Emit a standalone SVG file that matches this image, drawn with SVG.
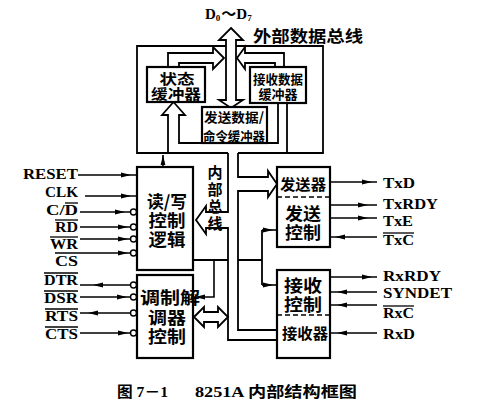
<svg xmlns="http://www.w3.org/2000/svg" width="480" height="408" viewBox="0 0 480 408">
<defs>
<marker id="ar" viewBox="0 0 10 6" refX="10" refY="3" markerWidth="10" markerHeight="6" markerUnits="userSpaceOnUse" orient="auto"><path d="M0,0.6 L10,3 L0,5.4 Z" fill="#000"/></marker>
</defs>
<style>
.box{fill:#fff;stroke:#000;stroke-width:2.2}
.bus{fill:none;stroke:#000;stroke-width:1.8}
.hol{fill:#fff;stroke:#000;stroke-width:1.8}
.sig{fill:none;stroke:#000;stroke-width:1.6;marker-mid:url(#ar)}
.sige{fill:none;stroke:#000;stroke-width:1.6;marker-end:url(#ar)}
.bub{fill:#fff;stroke:#000;stroke-width:1.4}
.ob{stroke:#000;stroke-width:1.3}
.dash{stroke:#000;stroke-width:1.4;stroke-dasharray:5 3}
.lat{font-family:"Liberation Serif","Noto Sans CJK SC",serif;font-weight:bold;font-size:15px}
.cn{font-family:"Noto Sans CJK SC","Noto Sans",sans-serif;font-weight:bold;text-anchor:middle;dominant-baseline:central}
</style>
<rect width="480" height="408" fill="#fff"/>

<g id="connectors">
  <path class="bus" d="M228,153 H137 V46 H226 M236,46 H323 V153 H238"/>
  <path class="bus" d="M168,153 V115 H162 L173.5,102 L185,115 H179 V143 H202"/>
  <path class="bus" d="M267,143 H278 V103 M287,103 V153"/>
  <path class="bus" d="M168,67 V53 H213 V47 L224,58 L213,69 V63 H179 V67"/>
  <path class="bus" d="M284,67 V53 H245 V47 L237,58 L245,69 V63 H275 V67"/>
  <polygon class="hol" points="231,28 243,40 236,40 236,100 243,100 231,108 219,100 226,100 226,40 219,40"/>
  <path class="bus" d="M228,153 V212 H206 V206 L196,220 L206,234 V228 H228 V340 H277"/>
  <path class="bus" d="M238,153 V177 H268 V171 L277,184 L268,197 V191 H238 V330 H277"/>
  <polygon class="hol" points="194,317 204,307 204,312 218,312 218,307 228,317 218,327 218,322 204,322 204,327"/>
  <path class="sige" d="M163,167 V155"/>
  <path class="bus" d="M193,260 H228"/>
  <path class="sige" d="M214,260 V297 H195"/>
  <path class="bus" d="M238,260 H262 M262,230 V285"/>
  <path class="sig" d="M262,230 L273,230 L277,230"/>
  <path class="sig" d="M262,285 L273,285 L277,285"/>
  <path class="sig" d="M78,175 L131,175 L137,175"/>
  <path class="sig" d="M85,196 L131,196 L137,196"/>
  <path class="sig" d="M80,212 L125,212 L130,212"/>
  <path class="sig" d="M80,227 L128,227 L130,227"/>
  <path class="sig" d="M80,239 L128,239 L130,239"/>
  <path class="sig" d="M55,253 L128,253 L130,253"/>
  <path class="sig" d="M130,285 L93,285 L80,285"/>
  <path class="sig" d="M80,297 L127,297 L130,297"/>
  <path class="sig" d="M130,313 L88,313 L80,313"/>
  <path class="sig" d="M80,333 L128,333 L130,333"/>
  <circle class="bub" cx="133.5" cy="212" r="3"/>
  <circle class="bub" cx="133.5" cy="227" r="3"/>
  <circle class="bub" cx="133.5" cy="239" r="3"/>
  <circle class="bub" cx="133.5" cy="253" r="3"/>
  <circle class="bub" cx="133.5" cy="285" r="3"/>
  <circle class="bub" cx="133.5" cy="297" r="3"/>
  <circle class="bub" cx="133.5" cy="313" r="3"/>
  <circle class="bub" cx="133.5" cy="333" r="3"/>
  <path class="sig" d="M330,182 L372,182 L377,182"/>
  <path class="sig" d="M330,205 L368,205 L377,205"/>
  <path class="sig" d="M330,218 L368,218 L377,218"/>
  <path class="sig" d="M377,237 L335,237 L330,237"/>
  <path class="sig" d="M330,277 L372,277 L377,277"/>
  <path class="sig" d="M377,292 L337,292 L330,292"/>
  <path class="sig" d="M377,305 L337,305 L330,305"/>
  <path class="sig" d="M377,333 L337,333 L330,333"/>
</g>

<g id="status-buffer">
  <rect class="box" x="147" y="67" width="58" height="35"/>
  <text class="cn" x="177" y="78" font-size="14" textLength="35" lengthAdjust="spacingAndGlyphs">状态</text>
  <text class="cn" x="176" y="93" font-size="14" textLength="50" lengthAdjust="spacingAndGlyphs">缓冲器</text>
</g>
<g id="receive-buffer">
  <rect class="box" x="250" y="67" width="56" height="36"/>
  <text class="cn" x="278" y="78" font-size="13" textLength="50" lengthAdjust="spacingAndGlyphs">接收数据</text>
  <text class="cn" x="278" y="93" font-size="13" textLength="39" lengthAdjust="spacingAndGlyphs">缓冲器</text>
</g>
<g id="tx-buffer">
  <rect class="box" x="202" y="107" width="65" height="36"/>
  <text class="cn" x="234" y="116" font-size="13" textLength="60" lengthAdjust="spacingAndGlyphs">发送数据/</text>
  <text class="cn" x="234" y="135" font-size="13" textLength="62" lengthAdjust="spacingAndGlyphs">命令缓冲器</text>
</g>
<g id="external-bus-label">
  <text class="lat" x="205" y="19" font-size="17">D<tspan font-size="9" dy="2">0</tspan><tspan dy="-2" dx="1">～</tspan>D<tspan font-size="9" dy="2">7</tspan></text>
  <text class="cn" x="308" y="35" font-size="16" textLength="110" lengthAdjust="spacingAndGlyphs">外部数据总线</text>
</g>
<g id="internal-bus-label">
  <text class="cn" x="215" y="171" font-size="15">内</text>
  <text class="cn" x="215" y="188" font-size="15">部</text>
  <text class="cn" x="215" y="205" font-size="15">总</text>
  <text class="cn" x="215" y="222" font-size="15">线</text>
</g>
<g id="rw-logic">
  <rect class="box" x="137" y="167" width="56" height="103"/>
  <text class="cn" x="167" y="200" font-size="17" textLength="40" lengthAdjust="spacingAndGlyphs">读/写</text>
  <text class="cn" x="167" y="219" font-size="17" textLength="37" lengthAdjust="spacingAndGlyphs">控制</text>
  <text class="cn" x="167" y="238" font-size="17" textLength="37" lengthAdjust="spacingAndGlyphs">逻辑</text>
</g>
<g id="modem-ctrl">
  <rect class="box" x="137" y="275" width="56" height="83"/>
  <text class="cn" x="170" y="296" font-size="17" textLength="60" lengthAdjust="spacingAndGlyphs">调制解</text>
  <text class="cn" x="167" y="316" font-size="17" textLength="38" lengthAdjust="spacingAndGlyphs">调器</text>
  <text class="cn" x="167" y="335" font-size="17" textLength="38" lengthAdjust="spacingAndGlyphs">控制</text>
</g>
<g id="transmitter">
  <rect class="box" x="277" y="167" width="53" height="80"/>
  <line class="dash" x1="277" y1="197" x2="330" y2="197"/>
  <text class="cn" x="303" y="183" font-size="15" textLength="46" lengthAdjust="spacingAndGlyphs">发送器</text>
  <text class="cn" x="303" y="212" font-size="17" textLength="36" lengthAdjust="spacingAndGlyphs">发送</text>
  <text class="cn" x="303" y="231" font-size="17" textLength="36" lengthAdjust="spacingAndGlyphs">控制</text>
</g>
<g id="receiver">
  <rect class="box" x="277" y="270" width="53" height="88"/>
  <line class="dash" x1="277" y1="315" x2="330" y2="315"/>
  <text class="cn" x="303" y="284" font-size="17" textLength="38" lengthAdjust="spacingAndGlyphs">接收</text>
  <text class="cn" x="303" y="303" font-size="17" textLength="38" lengthAdjust="spacingAndGlyphs">控制</text>
  <text class="cn" x="305" y="332" font-size="15" textLength="46" lengthAdjust="spacingAndGlyphs">接收器</text>
</g>

<g id="left-pins" class="lat" text-anchor="end">
  <text x="78" y="179" textLength="55" lengthAdjust="spacingAndGlyphs">RESET</text>
  <text x="78" y="197" textLength="33" lengthAdjust="spacingAndGlyphs">CLK</text>
  <text x="78" y="215" textLength="32" lengthAdjust="spacingAndGlyphs">C/D</text>
  <text x="78" y="232" textLength="23" lengthAdjust="spacingAndGlyphs">RD</text>
  <text x="78" y="249" textLength="28" lengthAdjust="spacingAndGlyphs">WR</text>
  <text x="78" y="266" textLength="23" lengthAdjust="spacingAndGlyphs">CS</text>
  <text x="78" y="285" textLength="34" lengthAdjust="spacingAndGlyphs">DTR</text>
  <text x="78" y="303" textLength="34" lengthAdjust="spacingAndGlyphs">DSR</text>
  <text x="78" y="321" textLength="33" lengthAdjust="spacingAndGlyphs">RTS</text>
  <text x="78" y="339" textLength="33" lengthAdjust="spacingAndGlyphs">CTS</text>
</g>
<g id="left-overbars">
  <line class="ob" x1="65" y1="203" x2="78" y2="203"/>
  <line class="ob" x1="55" y1="220" x2="78" y2="220"/>
  <line class="ob" x1="50" y1="237" x2="78" y2="237"/>
  <line class="ob" x1="44" y1="273" x2="78" y2="273"/>
  <line class="ob" x1="44" y1="291" x2="78" y2="291"/>
  <line class="ob" x1="45" y1="309" x2="78" y2="309"/>
  <line class="ob" x1="45" y1="327" x2="78" y2="327"/>
</g>
<g id="right-pins" class="lat">
  <text x="383" y="188" textLength="32" lengthAdjust="spacingAndGlyphs">TxD</text>
  <text x="383" y="209" textLength="55" lengthAdjust="spacingAndGlyphs">TxRDY</text>
  <text x="383" y="226" textLength="30" lengthAdjust="spacingAndGlyphs">TxE</text>
  <text x="383" y="245" textLength="31" lengthAdjust="spacingAndGlyphs">TxC</text>
  <text x="383" y="281" textLength="58" lengthAdjust="spacingAndGlyphs">RxRDY</text>
  <text x="383" y="298" textLength="69" lengthAdjust="spacingAndGlyphs">SYNDET</text>
  <text x="383" y="318" textLength="31" lengthAdjust="spacingAndGlyphs">RxC</text>
  <text x="383" y="339" textLength="32" lengthAdjust="spacingAndGlyphs">RxD</text>
  <line class="ob" x1="383" y1="233" x2="414" y2="233"/>
  <line class="ob" x1="383" y1="306" x2="414" y2="306"/>
</g>

<g id="caption" class="lat">
  <text x="117" y="397" textLength="51" lengthAdjust="spacingAndGlyphs">图 7－1</text>
  <text x="195" y="397" textLength="162" lengthAdjust="spacingAndGlyphs">8251A 内部结构框图</text>
</g>
</svg>
